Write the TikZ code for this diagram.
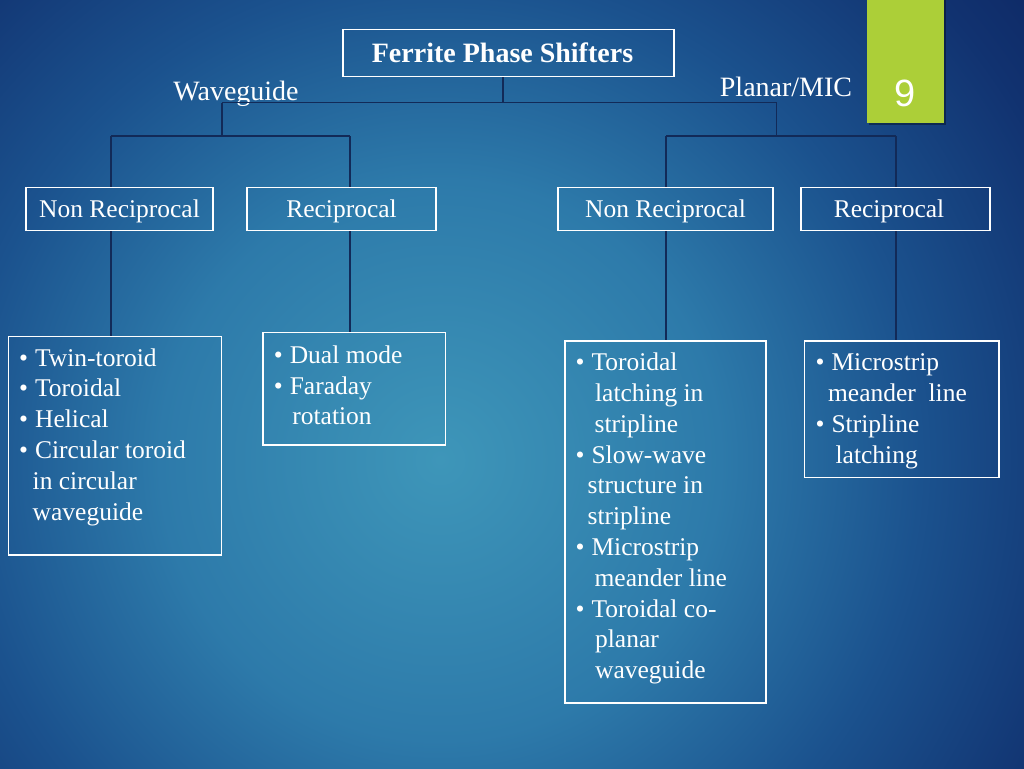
\documentclass[tikz,border=0pt]{standalone}
\usepackage{fontspec}
\setmainfont{Liberation Serif}
\newfontfamily\numfont{Liberation Sans}
\definecolor{bgA}{RGB}{62,150,185}
\definecolor{bgB}{RGB}{45,122,170}
\definecolor{bgC}{RGB}{27,82,142}
\definecolor{bgD}{RGB}{17,50,112}
\definecolor{bgE}{RGB}{12,34,92}
\definecolor{lineblue}{RGB}{18,42,88}
\definecolor{slidegreen}{RGB}{172,207,56}
\pgfdeclareradialshading{bgshade}{\pgfpoint{0bp}{0bp}}{color(0bp)=(bgA); color(3.5bp)=(bgB); color(6bp)=(bgC); color(8.5bp)=(bgD); color(10.5bp)=(bgE); color(50bp)=(bgE)}
\newcommand\mybul{•\hspace{7pt}}
\begin{document}
\begin{tikzpicture}[x=1pt,y=-1pt,
  box/.style={draw=white, line width=1.3pt, inner sep=0pt},
  lvl/.style={box, font=\fontsize{25.5}{30.8}\selectfont, text=white, text height=18pt, text depth=2pt, minimum height=43pt},
  conn/.style={draw=lineblue, line width=1.2pt},
  lbl/.style={font=\fontsize{28}{33}\selectfont, text=white, inner sep=0pt, anchor=base},
  btxt/.style={font=\fontsize{25.5}{30.8}\selectfont, text=white, inner sep=0pt, align=left, anchor=base west}]

\useasboundingbox (0,0) rectangle (1024,768);
\begin{scope}
  \clip (0,0) rectangle (1024,768);
  \shade[shading=bgshade] (440,460) circle (2000pt);
\end{scope}

% slide number tab
\fill[black, opacity=0.35] (868.5,0) rectangle (946,124.5);
\fill[slidegreen] (866.7,0) rectangle (944,122.7);
\node[font=\numfont\fontsize{38}{40}\selectfont, text=white, anchor=base, inner sep=0pt] (num) at (905,106) {9};

% title and branch labels
\node[box, minimum width=331pt, minimum height=47pt, font=\bfseries\fontsize{28}{33}\selectfont, text=white, text height=20pt, text depth=0pt] (title) at (508.5,53) {Ferrite Phase Shifters\hspace*{12pt}};
\node[lbl] (wg) at (236,100) {Waveguide};
\node[lbl] (pm) at (786,96.7) {Planar/MIC};

% level 2 boxes
\node[lvl, minimum width=187pt] (nr1) at (119.5,209) {Non Reciprocal};
\node[lvl, minimum width=189pt] (r1) at (341.5,209) {Reciprocal};
\node[lvl, minimum width=215pt] (nr2) at (665.5,209) {Non Reciprocal};
\node[lvl, minimum width=189pt] (r2) at (895.5,209) {Reciprocal\hspace*{13pt}};

% bullet boxes
\node[box, minimum width=213.4pt, minimum height=218.3pt] (b1) at (115,445.85) {};
\node[box, minimum width=182.7pt, minimum height=112.3pt] (b2) at (354.35,388.85) {};
\node[box, minimum width=201pt, minimum height=362pt] (b3) at (665.5,522) {};
\node[box, minimum width=194.7pt, minimum height=136.7pt] (b4) at (901.65,409.35) {};

% texts (base anchor = baseline of the last line)
\node[btxt] (t1) at (19,520) {\mybul Twin-toroid\\ \mybul Toroidal\\ \mybul Helical\\ \mybul Circular toroid\\ \hspace*{13.5pt}in circular\\ \hspace*{13.5pt}waveguide};
\node[btxt] (t2) at (273.7,424.9) {\mybul Dual mode\\ \mybul Faraday\\ \hspace*{18.5pt}rotation};
\node[btxt] (t3) at (575.4,678.7) {\mybul Toroidal\\ \hspace*{19.5pt}latching in\\ \hspace*{19pt}stripline\\ \mybul Slow-wave\\ \hspace*{12pt}structure in\\ \hspace*{12pt}stripline\\ \mybul Microstrip\\ \hspace*{19pt}meander line\\ \mybul Toroidal co-\\ \hspace*{19.5pt}planar\\ \hspace*{19.5pt}waveguide};
\node[btxt] (t4) at (815.4,463.1) {\mybul Microstrip\\ \hspace*{12.5pt}meander\ \ line\\ \mybul Stripline\\ \hspace*{20pt}latching};

% connectors
\coordinate (j0) at (503,102.5);
\coordinate (jL) at (222,102.5);
\coordinate (jR) at (776.5,102.5);
\coordinate (kL) at (222,136);
\coordinate (kR) at (776.5,136);
\coordinate (kL1) at (111,136);
\coordinate (kL2) at (350,136);
\coordinate (kR1) at (666,136);
\coordinate (kR2) at (896,136);

\draw[conn] (title.south -| j0) -- (j0);
\draw[conn] (jL) -- (jR);
\draw[conn] (jL) -- (kL);
\draw[conn] (jR) -- (kR);
\draw[conn] (kL1) -- (kL2);
\draw[conn] (kR1) -- (kR2);
\draw[conn] (kL1) -- (kL1 |- nr1.north);
\draw[conn] (kL2) -- (kL2 |- r1.north);
\draw[conn] (kR1) -- (kR1 |- nr2.north);
\draw[conn] (kR2) -- (kR2 |- r2.north);
\draw[conn] (kL1 |- nr1.south) -- (kL1 |- b1.north);
\draw[conn] (kL2 |- r1.south) -- (kL2 |- b2.north);
\draw[conn] (kR1 |- nr2.south) -- (kR1 |- b3.north);
\draw[conn] (kR2 |- r2.south) -- (kR2 |- b4.north);
\end{tikzpicture}
\end{document}
